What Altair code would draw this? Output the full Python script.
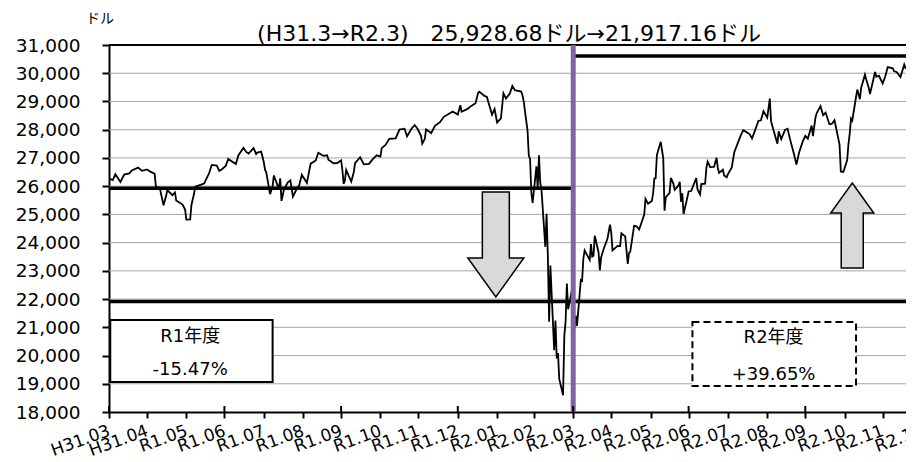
import json
import altair as alt
import pandas as pd

# ---------------- data ----------------
dates = [
    "2019-04-01","2019-04-03","2019-04-05","2019-04-09","2019-04-12","2019-04-16","2019-04-18","2019-04-23","2019-04-26","2019-04-30",
    "2019-05-03","2019-05-06","2019-05-07","2019-05-10","2019-05-13","2019-05-15","2019-05-16","2019-05-20","2019-05-22","2019-05-23","2019-05-28","2019-05-30","2019-05-31",
    "2019-06-03","2019-06-04","2019-06-06","2019-06-07","2019-06-11","2019-06-14","2019-06-18","2019-06-20","2019-06-24","2019-06-26","2019-06-28",
    "2019-07-01","2019-07-03","2019-07-09","2019-07-11","2019-07-15","2019-07-17","2019-07-19","2019-07-23","2019-07-25","2019-07-26","2019-07-29","2019-07-31",
    "2019-08-01","2019-08-02","2019-08-05","2019-08-07","2019-08-08","2019-08-12","2019-08-13","2019-08-14","2019-08-16","2019-08-19","2019-08-21","2019-08-23","2019-08-26","2019-08-28","2019-08-30",
    "2019-09-03","2019-09-06","2019-09-10","2019-09-12","2019-09-16","2019-09-19","2019-09-20","2019-09-24","2019-09-27","2019-09-30",
    "2019-10-01","2019-10-02","2019-10-03","2019-10-04","2019-10-08","2019-10-10","2019-10-11","2019-10-15","2019-10-18","2019-10-22","2019-10-25","2019-10-28","2019-10-31",
    "2019-11-01","2019-11-04","2019-11-07","2019-11-12","2019-11-15","2019-11-19","2019-11-21","2019-11-25","2019-11-27","2019-11-29",
    "2019-12-02","2019-12-03","2019-12-05","2019-12-06","2019-12-10","2019-12-13","2019-12-17","2019-12-20","2019-12-26","2019-12-27","2019-12-31",
    "2020-01-02","2020-01-03","2020-01-08","2020-01-10","2020-01-14","2020-01-16","2020-01-17","2020-01-21","2020-01-23","2020-01-24","2020-01-27","2020-01-29","2020-01-31",
    "2020-02-03","2020-02-05","2020-02-07","2020-02-10","2020-02-12","2020-02-14","2020-02-19","2020-02-20","2020-02-21","2020-02-24","2020-02-25","2020-02-26","2020-02-27","2020-02-28",
    "2020-03-02","2020-03-03","2020-03-04","2020-03-05","2020-03-06","2020-03-09","2020-03-10","2020-03-11","2020-03-12","2020-03-13","2020-03-16","2020-03-17","2020-03-18","2020-03-19","2020-03-20","2020-03-23","2020-03-24","2020-03-25","2020-03-26","2020-03-27","2020-03-30","2020-03-31",
    "2020-04-01","2020-04-02","2020-04-03","2020-04-06","2020-04-07","2020-04-08","2020-04-09","2020-04-13","2020-04-14","2020-04-15","2020-04-16","2020-04-17","2020-04-20","2020-04-21","2020-04-22","2020-04-24","2020-04-27","2020-04-29","2020-04-30",
    "2020-05-01","2020-05-05","2020-05-07","2020-05-08","2020-05-11","2020-05-13","2020-05-14","2020-05-15","2020-05-18","2020-05-20","2020-05-22","2020-05-26","2020-05-27","2020-05-29",
    "2020-06-01","2020-06-02","2020-06-03","2020-06-04","2020-06-05","2020-06-08","2020-06-09","2020-06-10","2020-06-11","2020-06-12","2020-06-15","2020-06-16","2020-06-18","2020-06-19","2020-06-22","2020-06-23","2020-06-24","2020-06-25","2020-06-26","2020-06-29","2020-06-30",
    "2020-07-02","2020-07-06","2020-07-07","2020-07-09","2020-07-10","2020-07-13","2020-07-14","2020-07-15","2020-07-17","2020-07-20","2020-07-22","2020-07-23","2020-07-24","2020-07-27","2020-07-28","2020-07-30","2020-07-31",
    "2020-08-03","2020-08-05","2020-08-07","2020-08-10","2020-08-12","2020-08-14","2020-08-17","2020-08-19","2020-08-21","2020-08-24","2020-08-26","2020-08-28","2020-08-31",
    "2020-09-02","2020-09-03","2020-09-04","2020-09-08","2020-09-09","2020-09-11","2020-09-14","2020-09-16","2020-09-18","2020-09-21","2020-09-23","2020-09-25","2020-09-28","2020-09-30",
    "2020-10-02","2020-10-05","2020-10-06","2020-10-08","2020-10-09","2020-10-12","2020-10-14","2020-10-16","2020-10-19","2020-10-21","2020-10-23","2020-10-26","2020-10-27","2020-10-28","2020-10-30",
    "2020-11-02","2020-11-03","2020-11-04","2020-11-05","2020-11-06","2020-11-09","2020-11-10","2020-11-12","2020-11-13","2020-11-16","2020-11-17","2020-11-19","2020-11-20","2020-11-24","2020-11-25","2020-11-27","2020-11-30",
    "2020-12-02","2020-12-04","2020-12-08","2020-12-09","2020-12-11","2020-12-14","2020-12-16","2020-12-17","2020-12-18","2020-12-21","2020-12-23","2020-12-24","2020-12-28","2020-12-29","2020-12-30","2020-12-31",
]
closes = [
    26258,26218,26424,26150,26412,26452,26559,26656,26543,26592,
    26505,26438,25965,25942,25324,25648,25862,25679,25776,25490,25347,25169,24815,
    24820,25332,25720,25983,26048,26090,26465,26753,26727,26537,26600,
    26718,26966,26784,27088,27359,27220,27154,27349,27140,27192,27221,26864,
    26583,26485,25718,26007,26378,25897,26280,25480,25886,26136,26202,25629,25899,26036,26403,
    26118,26797,26909,27182,27076,27095,26935,26808,26820,26917,
    26573,26079,26201,26573,26164,26497,26817,27025,26770,26788,26958,27091,27046,
    27347,27462,27675,27691,28005,28036,27766,28066,28164,28051,
    27783,27503,27677,28015,27881,28135,28268,28455,28621,28645,28538,
    28868,28634,28745,28824,28940,29298,29348,29196,29160,28990,28535,28734,28256,
    28400,29291,29102,29276,29551,29398,29348,29219,28992,27961,27081,26957,25766,25409,
    26703,25917,27091,26121,25865,23851,25018,23553,21200,23185,20189,21237,19899,20087,19174,18592,20705,21200,22552,21637,22328,21917,
    20944,21413,21053,22680,22654,23434,23719,23391,23950,23505,23538,24242,23650,23019,23475,23775,24134,24634,24346,
    23724,23883,23875,24331,24222,23248,23625,23685,24597,24576,24465,24995,25548,25383,
    25475,25742,26270,26282,27111,27572,27272,26990,25128,25606,25763,26290,26080,25871,26025,26156,25446,25745,25016,25596,25813,
    25827,26287,25890,25707,26075,26086,26643,26870,26672,26680,27006,26653,26470,26585,26379,26314,26428,
    26664,27201,27433,27791,27977,27931,27844,27693,27930,28308,28332,28654,28430,
    29100,28293,28133,27501,27940,27666,27993,28032,27657,27148,26763,27174,27584,27782,
    27683,28149,27773,28426,28587,28838,28514,28606,28196,28211,28336,27686,27464,26520,26502,
    26925,27481,27848,28390,28323,29158,29421,29080,29480,29950,29784,29484,29263,30046,29872,29910,29639,
    29884,30218,30174,30069,30046,29862,30155,30303,30180,30216,30129,30200,30404,30336,30410,30606,
]

tick_dates = [
    "2019-03-31","2019-04-30","2019-05-31","2019-06-30","2019-07-31","2019-08-31","2019-09-30","2019-10-31","2019-11-30","2019-12-31",
    "2020-01-31","2020-02-29","2020-03-31","2020-04-30","2020-05-31","2020-06-30","2020-07-31","2020-08-31","2020-09-30","2020-10-31","2020-11-30","2020-12-31",
]
tick_labels = [
    "H31.03","H31.04","R1.05","R1.06","R1.07","R1.08","R1.09","R1.10","R1.11","R1.12",
    "R2.01","R2.02","R2.03","R2.04","R2.05","R2.06","R2.07","R2.08","R2.09","R2.10","R2.11","R2.12",
]
quarter_dates = ["2019-03-31","2019-06-30","2019-09-30","2019-12-31","2020-03-31","2020-06-30","2020-09-30","2020-12-31"]
y_ticks = list(range(18000, 31001, 1000))

level_values = [25928.68, 21917.16, 30606.48]
level_starts = ["2019-03-31", "2019-03-31", "2020-03-31"]
level_ends = ["2020-03-31", "2020-12-31", "2020-12-31"]
split_date = "2020-03-31"

title_text = "(H31.3→R2.3)\u300025,928.68ドル→21,917.16ドル"
unit_text = "ドル"

box_names = ["R1年度", "R2年度"]
box_returns = ["-15.47%", "+39.65%"]
box_x1 = ["2019-04-01", "2020-07-03"]
box_x2 = ["2019-08-07", "2020-11-09"]
box_top = [21258, 21188]
box_bottom = [19062, 18920]
box_text_x = ["2019-06-03", "2020-09-05"]
box_name_y = [20656, 20621]
box_ret_y = [19487, 19310]

arrow_down_at = ("2020-01-30", 23933)
arrow_up_at = ("2020-11-06", 24606)

# ---------------- helpers ----------------
START, END = "2019-03-31", "2020-12-31"
FONT = "DejaVu Sans, Noto Sans CJK JP"
W, H = 797, 367
RANGE_W = 813


def ms(s):
    return int(pd.Timestamp(s, tz="UTC").timestamp() * 1000)


xscale = alt.Scale(type="utc", domain=[ms(START), ms(END)], range=[0, RANGE_W])
yscale = alt.Scale(domain=[18000, 31000], nice=False, zero=False)

label_expr = json.dumps(tick_labels) + "[(utcyear(datum.value)-2019)*12+utcmonth(datum.value)-2]"

x_axis = alt.Axis(
    values=[ms(d) for d in tick_dates], labelExpr=label_expr, labelAngle=-20,
    labelAlign="right", labelBaseline="middle", labelFontSize=17, labelPadding=12,
    labelFont=FONT, labelColor="black", labelOverlap=False, labelFlush=False,
    tickSize=6, tickWidth=2, tickColor="black", domainColor="black", domainWidth=2,
    grid=False, title=None,
)
y_axis = alt.Axis(
    values=y_ticks, format=",d", labelFontSize=18.5, labelFont=FONT, labelColor="black",
    labelPadding=22, tickSize=7, tickWidth=2, tickColor="black", domainColor="black",
    domainWidth=2, grid=False, title=None,
)


def X(field):
    return alt.X(field, type="temporal", scale=xscale, axis=x_axis)


def Y(field):
    return alt.Y(field, type="quantitative", scale=yscale, axis=y_axis)


series = pd.DataFrame({"t": [ms(d) for d in dates], "v": closes})

grid_df = pd.DataFrame({"v": y_ticks[1:-1], "s": ms(START), "e": ms(END)})
grid = alt.Chart(grid_df).mark_rule(color="#a6a6a6", strokeWidth=1).encode(
    x=X("s"), x2="e", y=Y("v"),
)

top_df = pd.DataFrame({"v": [y_ticks[-1]], "s": [ms(START)], "e": [ms(END)]})
top = alt.Chart(top_df).mark_rule(color="black", strokeWidth=2).encode(
    x=X("s"), x2="e", y=Y("v"),
)

line = alt.Chart(series).mark_line(color="black", strokeWidth=1.8).encode(
    x=X("t"), y=Y("v"),
)

lv_df = pd.DataFrame({"v": level_values, "s": [ms(d) for d in level_starts], "e": [ms(d) for d in level_ends]})
levels = alt.Chart(lv_df).mark_rule(color="black", strokeWidth=3.5).encode(
    x=X("s"), x2="e", y=Y("v"),
)

purple = alt.Chart(pd.DataFrame({"t": [ms(split_date)]})).mark_rule(color="#8064A2", strokeWidth=5).encode(
    x=X("t"),
)

qticks = alt.Chart(pd.DataFrame({"t": [ms(d) for d in quarter_dates]})).mark_rule(color="black", strokeWidth=2).encode(
    x=X("t"), y=alt.value(H - 6), y2=alt.value(H),
)

box_df = pd.DataFrame({
    "s": [ms(d) for d in box_x1], "e": [ms(d) for d in box_x2],
    "top": box_top, "bot": box_bottom,
})
box1 = alt.Chart(box_df.iloc[[0]]).mark_rect(fill="white", stroke="black", strokeWidth=2).encode(
    x=X("s"), x2="e", y=Y("top"), y2="bot",
)
box2 = alt.Chart(box_df.iloc[[1]]).mark_rect(fill="white", stroke="black", strokeWidth=2, strokeDash=[7, 4]).encode(
    x=X("s"), x2="e", y=Y("top"), y2="bot",
)

bt_df = pd.DataFrame({
    "t": [ms(d) for d in box_text_x] * 2,
    "v": box_name_y + box_ret_y,
    "txt": box_names + box_returns,
})
box_text = alt.Chart(bt_df).mark_text(font=FONT, fontSize=18, color="black", align="center", baseline="middle").encode(
    x=X("t"), y=Y("v"), text="txt:N",
)

DOWN_PATH = "M -0.257 -1 L 0.257 -1 L 0.257 0.257 L 0.533 0.257 L 0 1 L -0.533 0.257 L -0.257 0.257 Z"
UP_PATH = "M 0 -1 L 0.506 -0.294 L 0.259 -0.294 L 0.259 1 L -0.259 1 L -0.259 -0.294 L -0.506 -0.294 Z"

down = alt.Chart(pd.DataFrame({"t": [ms(arrow_down_at[0])], "v": [arrow_down_at[1]]})).mark_point(
    shape=DOWN_PATH, size=11025, filled=True, fill="#d9d9d9", stroke="black", strokeWidth=1.5,
    opacity=1, fillOpacity=1, strokeOpacity=1,
).encode(x=X("t"), y=Y("v"))

up = alt.Chart(pd.DataFrame({"t": [ms(arrow_up_at[0])], "v": [arrow_up_at[1]]})).mark_point(
    shape=UP_PATH, size=7225, filled=True, fill="#d9d9d9", stroke="black", strokeWidth=1.5,
    opacity=1, fillOpacity=1, strokeOpacity=1,
).encode(x=X("t"), y=Y("v"))

title = alt.Chart(pd.DataFrame({"txt": [title_text]})).mark_text(
    font=FONT, fontSize=22, color="black", align="center", baseline="middle",
).encode(x=alt.value(400), y=alt.value(-11), text="txt:N")

unit = alt.Chart(pd.DataFrame({"txt": [unit_text]})).mark_text(
    font=FONT, fontSize=14, color="black", align="center", baseline="middle",
).encode(x=alt.value(-9), y=alt.value(-26), text="txt:N")

chart = alt.layer(
    grid, top, line, levels, purple, qticks, box1, box2, box_text, down, up, title, unit
).properties(
    width=W, height=H,
    autosize=alt.AutoSizeParams(type="none"),
    padding={"left": 101, "top": 37, "right": 0, "bottom": 48},
).configure_view(stroke=None).configure(font=FONT)

chart.save("out.html", embed_options={"renderer": "svg", "actions": False})
